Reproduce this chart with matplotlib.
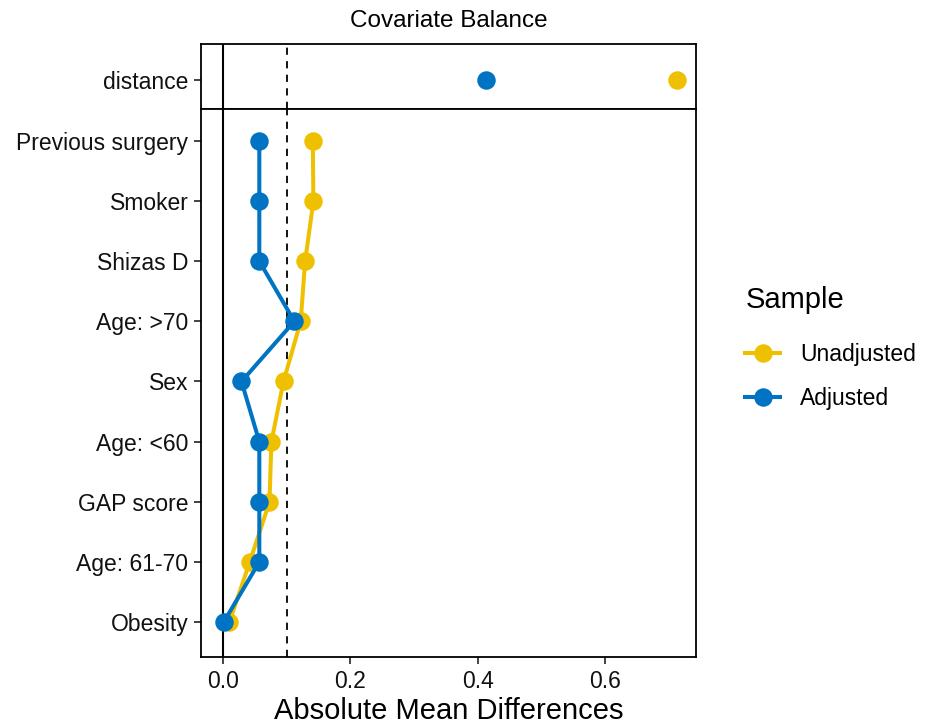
import matplotlib
matplotlib.use("Agg")
import matplotlib.pyplot as plt
from matplotlib.lines import Line2D

plt.rcParams['font.family'] = ['Liberation Sans', 'DejaVu Sans']

covariates = ["Obesity", "Age: 61-70", "GAP score", "Age: <60", "Sex",
              "Age: >70", "Shizas D", "Smoker", "Previous surgery"]
unadjusted = [0.010, 0.042, 0.073, 0.076, 0.095, 0.122, 0.129, 0.142, 0.141]
adjusted = [0.001, 0.057, 0.057, 0.057, 0.029, 0.112, 0.057, 0.057, 0.057]
distance_label = "distance"
distance_unadj = 0.713
distance_adj = 0.413
threshold = 0.1
xticks = [0.0, 0.2, 0.4, 0.6]

c_un = "#EFC000"
c_ad = "#0073C2"

fig = plt.figure(figsize=(9.34, 7.25), dpi=100)
left, width = 201/934, (696-201)/934
ax_top = fig.add_axes([left, 1-109/725, width, (109-44)/725])
ax_bot = fig.add_axes([left, 1-657/725, width, (657-109)/725])

xlim = (-0.0346, 0.743)
for ax in (ax_top, ax_bot):
    ax.axvline(0, color="black", lw=1.5, zorder=1)
    ax.axvline(threshold, color="black", lw=1.3, ls=(0, (4, 3.5)), zorder=1)
    ax.set_xlim(*xlim)
    for s in ax.spines.values():
        s.set_linewidth(1.3)
    ax.tick_params(axis="both", direction="out", length=5, width=1.2,
                   labelsize=16.5, color="#222222", labelcolor="#111111",
                   pad=4)

ms = 12.3
ax_top.plot([distance_unadj], [0], "o", color=c_un, ms=ms, zorder=3)
ax_top.plot([distance_adj], [0], "o", color=c_ad, ms=ms, zorder=4)
ax_top.set_yticks([0])
ax_top.set_yticklabels([distance_label])
ax_top.set_ylim(-0.48, 0.6)
ax_top.set_xticks([])
ax_top.set_title("Covariate Balance", fontsize=17.5, pad=12)

ypos = list(range(len(covariates)))
ax_bot.plot(unadjusted, ypos, "-o", color=c_un, lw=2.9, ms=ms, zorder=3)
ax_bot.plot(adjusted, ypos, "-o", color=c_ad, lw=2.9, ms=ms, zorder=4)
ax_bot.set_yticks(ypos)
ax_bot.set_yticklabels(covariates)
ax_bot.set_ylim(-0.58, 8.53)
ax_bot.set_xticks(xticks)
ax_bot.set_xticklabels([f"{v:.1f}" for v in xticks])
ax_bot.set_xlabel("Absolute Mean Differences", fontsize=21, labelpad=3)

handles = [Line2D([], [], color=c_un, lw=2.9, marker="o", ms=ms),
           Line2D([], [], color=c_ad, lw=2.9, marker="o", ms=ms)]
leg = fig.legend(handles, ["Unadjusted", "Adjusted"], title="Sample",
                 loc="center left", bbox_to_anchor=(0.776, 0.52),
                 frameon=False, fontsize=16.5, title_fontsize=21,
                 handlelength=1.5, labelspacing=0.95, handletextpad=0.9)
leg._legend_box.align = "left"
leg._legend_box.sep = 21

fig.savefig("out.png", dpi=100)
